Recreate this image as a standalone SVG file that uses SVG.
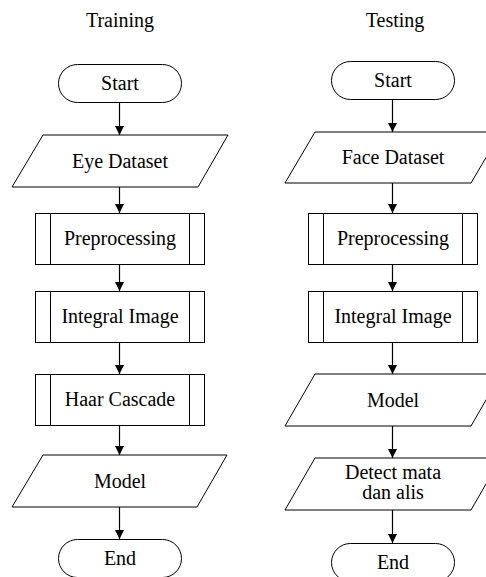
<svg xmlns="http://www.w3.org/2000/svg" width="486" height="577" viewBox="0 0 486 577">
<style>
.s{fill:#fff;stroke:#000;stroke-width:1}
.t{font-family:"Liberation Serif","Times New Roman",serif;font-size:20px;fill:#000;text-anchor:middle}
.c{stroke:#000;stroke-width:1.2;fill:none;marker-end:url(#ah)}
</style>
<defs>
<marker id="ah" markerUnits="userSpaceOnUse" markerWidth="9" markerHeight="9" refX="9" refY="4.5" orient="auto">
<path d="M0,0 L9,4.5 L0,9 z" fill="#000"/>
</marker>
</defs>
<rect width="486" height="577" fill="#fff"/>
<text class="t" x="120" y="27">Training</text>
<text class="t" x="395" y="27">Testing</text>
<g id="connectors">
<line class="c" x1="119.5" y1="102" x2="119.5" y2="135"/>
<line class="c" x1="119.5" y1="187" x2="119.5" y2="213"/>
<line class="c" x1="119.5" y1="264" x2="119.5" y2="291"/>
<line class="c" x1="119.5" y1="343" x2="119.5" y2="374"/>
<line class="c" x1="119.5" y1="426" x2="119.5" y2="455"/>
<line class="c" x1="119.5" y1="507" x2="119.5" y2="539"/>
<line class="c" x1="392.5" y1="100" x2="392.5" y2="132"/>
<line class="c" x1="392.5" y1="183" x2="392.5" y2="213"/>
<line class="c" x1="392.5" y1="264" x2="392.5" y2="291"/>
<line class="c" x1="392.5" y1="343" x2="392.5" y2="374"/>
<line class="c" x1="392.5" y1="426" x2="392.5" y2="458"/>
<line class="c" x1="392.5" y1="510" x2="392.5" y2="543"/>
</g>
<g id="tr-start"><rect class="s" x="58.5" y="64.5" width="123" height="38" rx="19"/><text class="t" x="120" y="90">Start</text></g>
<g id="tr-eye"><polygon class="s" points="43,135 228,135 198,187 12,187"/><text class="t" x="120" y="167.5">Eye Dataset</text></g>
<g id="tr-pre"><rect class="s" x="35.5" y="213.5" width="169" height="51"/><line class="s" x1="50.5" y1="213.5" x2="50.5" y2="264.5"/><line class="s" x1="189.5" y1="213.5" x2="189.5" y2="264.5"/><text class="t" x="120" y="245">Preprocessing</text></g>
<g id="tr-int"><rect class="s" x="35.5" y="291.5" width="169" height="51"/><line class="s" x1="50.5" y1="291.5" x2="50.5" y2="342.5"/><line class="s" x1="189.5" y1="291.5" x2="189.5" y2="342.5"/><text class="t" x="120" y="323">Integral Image</text></g>
<g id="tr-haar"><rect class="s" x="35.5" y="374.5" width="169" height="51"/><line class="s" x1="50.5" y1="374.5" x2="50.5" y2="425.5"/><line class="s" x1="189.5" y1="374.5" x2="189.5" y2="425.5"/><text class="t" x="120" y="406">Haar Cascade</text></g>
<g id="tr-model"><polygon class="s" points="43,455 227,455 197,507 12,507"/><text class="t" x="120" y="487.5">Model</text></g>
<g id="tr-end"><rect class="s" x="58.5" y="539.5" width="123" height="38" rx="19"/><text class="t" x="120" y="565">End</text></g>
<g id="te-start"><rect class="s" x="331.5" y="61.5" width="123" height="38" rx="19"/><text class="t" x="393" y="87">Start</text></g>
<g id="te-face"><polygon class="s" points="315,132 501,132 471,183 285,183"/><text class="t" x="393" y="164">Face Dataset</text></g>
<g id="te-pre"><rect class="s" x="308.5" y="213.5" width="169" height="51"/><line class="s" x1="323.5" y1="213.5" x2="323.5" y2="264.5"/><line class="s" x1="462.5" y1="213.5" x2="462.5" y2="264.5"/><text class="t" x="393" y="245">Preprocessing</text></g>
<g id="te-int"><rect class="s" x="308.5" y="291.5" width="169" height="51"/><line class="s" x1="323.5" y1="291.5" x2="323.5" y2="342.5"/><line class="s" x1="462.5" y1="291.5" x2="462.5" y2="342.5"/><text class="t" x="393" y="323">Integral Image</text></g>
<g id="te-model"><polygon class="s" points="315,374 501,374 471,426 285,426"/><text class="t" x="393" y="406.5">Model</text></g>
<g id="te-detect"><polygon class="s" points="315,458 501,458 471,510 285,510"/><text class="t" x="393" y="479">Detect mata</text><text class="t" x="393" y="499">dan alis</text></g>
<g id="te-end"><rect class="s" x="331.5" y="543.5" width="123" height="38" rx="19"/><text class="t" x="393" y="569">End</text></g>
</svg>
